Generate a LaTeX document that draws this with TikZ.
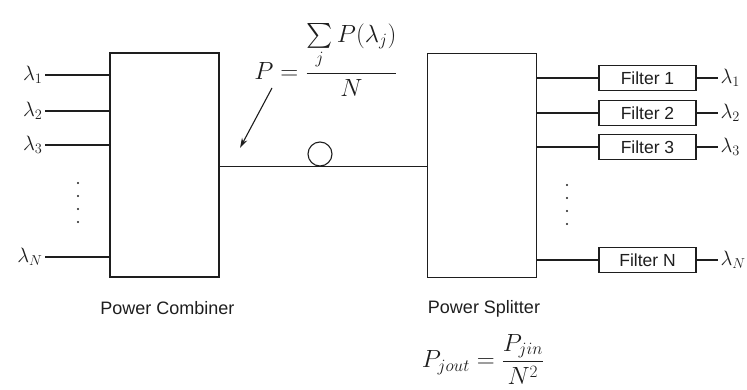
\documentclass[tikz,border=0pt]{standalone}
\usepackage{amsmath}
\usepackage{fontspec}
\setsansfont{Liberation Sans}
\usetikzlibrary{arrows.meta,positioning}
\definecolor{inkgrey}{HTML}{1E1E1E}

\begin{document}
\begin{tikzpicture}[
  x=1pt, y=-1pt, line width=1.1pt, color=inkgrey,
  unit/.style={draw, minimum width=109, minimum height=224, inner sep=0pt},
  filt/.style={draw, minimum width=97, minimum height=25, inner sep=0pt,
               font=\sffamily\fontsize{17.5}{19}\selectfont},
  lam/.style={inner sep=2pt, font=\fontsize{22}{26}\selectfont},
  eqn/.style={inner sep=0pt, font=\fontsize{23}{27}\selectfont},
  caption/.style={inner sep=0pt, font=\sffamily\fontsize{18}{20}\selectfont},
  dotfill/.style={fill=inkgrey},
]
\useasboundingbox (0,0) rectangle (747,390);

% --- combiner and splitter
\node[unit] (comb)  at (164.5,165) {};
\node[unit] (split) at (482,165.5) {};
\node[caption] (combcap)  at (167.5,308) {Power Combiner};
\node[caption] (splitcap) at (484,309) {Power Splitter};

% --- inputs on the left
\node[lam, anchor=east] (in1) at (45,75)  {$\lambda_1$};
\node[lam, anchor=east] (in2) at (45,111) {$\lambda_2$};
\node[lam, anchor=east] (in3) at (45,145) {$\lambda_3$};
\node[lam, anchor=east] (inN) at (45,257) {$\lambda_N$};
\foreach \k in {in1,in2,in3,inN}
  \draw (\k.east) -- (\k.east -| comb.west);
\foreach \y in {183,196,209,222}
  \fill[dotfill] (78,\y) circle (1.2);

% --- fibre with its loop
\node[draw, circle, minimum size=24, inner sep=0pt] (loop) at (320,154) {};
\draw (comb.east |- loop.south) -- (split.west |- loop.south);

% --- filters on the right
\node[filt] (f1) at (647.5,78)  {Filter 1};
\node[filt] (f2) at (647.5,113) {Filter 2};
\node[filt] (f3) at (647.5,147) {Filter 3};
\node[filt] (fN) at (647.5,260) {Filter N};
\node[lam, anchor=west] (out1) at (718,78)  {$\lambda_1$};
\node[lam, anchor=west] (out2) at (718,113) {$\lambda_2$};
\node[lam, anchor=west] (out3) at (718,147) {$\lambda_3$};
\node[lam, anchor=west] (outN) at (718,260) {$\lambda_N$};
\foreach \k/\o in {f1/out1,f2/out2,f3/out3,fN/outN} {
  \draw (split.east |- \k.west) -- (\k.west);
  \draw (\k.east) -- (\o.west);
}
\foreach \y in {185,198,211,224}
  \fill[dotfill] (567,\y) circle (1.2);

% --- power formulas
\node[eqn] (psum) at (326,60)
  {$P=\dfrac{\sum\limits_{j}P(\lambda_j)}{N}$};
\coordinate (ptail) at (272,88);
\coordinate (ptip)  at (240,148);
\draw[-{Stealth[length=10pt,width=6pt]}] (ptail) -- (ptip);

\node[eqn] (pout) at (483,359.5) {$P_{jout}=\dfrac{P_{jin}}{N^2}$};
\end{tikzpicture}
\end{document}
